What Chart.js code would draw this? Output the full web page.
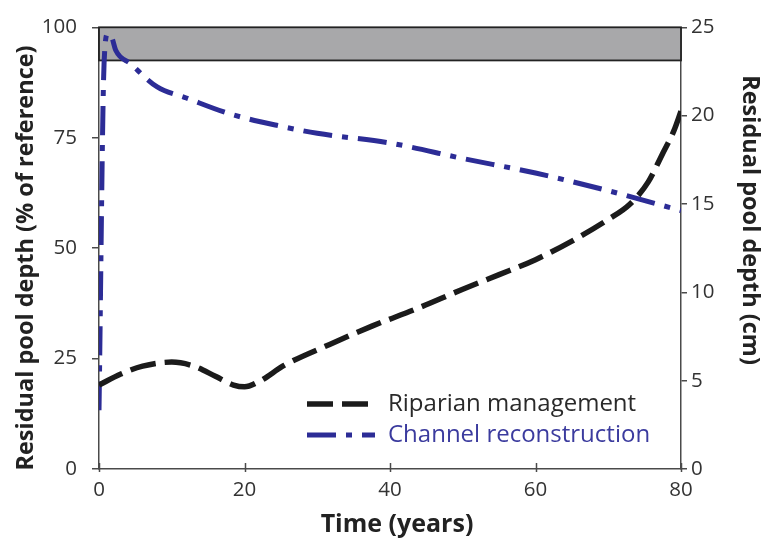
<!DOCTYPE html>
<html>
<head>
<meta charset="utf-8">
<script src="https://cdn.jsdelivr.net/npm/chart.js@4.4.1/dist/chart.umd.min.js"></script>
<style>
  html, body { margin: 0; padding: 0; background: #ffffff; }
  #wrap { width: 776px; height: 539px; position: relative; }
</style>
</head>
<body>
<div id="wrap"><canvas id="chart" width="776" height="539"></canvas></div>
<script>
// Residual pool depth over time under two restoration approaches
const riparianYears = [0, 3, 6, 10, 13, 16, 18.5, 20, 22, 25.5, 31.7, 37.6, 43.7, 50, 55, 60, 65, 70, 73, 75.5, 77.5, 79, 80];
const riparianPct   = [19, 21.5, 23.3, 24.2, 23.3, 21, 19, 18.6, 19.8, 23.5, 28.2, 32.4, 36.3, 40.7, 44, 47.4, 51.6, 56.5, 60, 65, 71.5, 76.5, 81];

const channelYears = [0, 0.7, 1.2, 1.8, 2.3, 4.3, 8, 12, 18, 25, 30, 40, 50, 60, 70, 80];
const channelPct   = [13.3, 92, 98.5, 97.5, 94.8, 91.8, 86.5, 84, 80.4, 77.6, 76, 73.8, 70.3, 67, 63, 58.5];

const seriesLabels = ['Riparian management', 'Channel reconstruction'];

// Reference-condition band (% of reference)
const referenceBand = [92.5, 100];

const xTicks = [0, 20, 40, 60, 80];
const pctTicks = [0, 25, 50, 75, 100];
const cmTicks = [0, 5, 10, 15, 20, 25];

const axisTitles = {
  x: 'Time (years)',
  left: 'Residual pool depth (% of reference)',
  right: 'Residual pool depth (cm)'
};

const FONT = "'Open Sans', 'Noto Sans', sans-serif";
const BLACK = '#1b1b1b';
const BLUE = '#2c2c96';
const AXIS = '#4a4a4a';

function toPoints(xs, ys) {
  return xs.map((x, i) => ({ x: x, y: ys[i] }));
}

const decorations = {
  id: 'decorations',
  beforeDatasetsDraw(chart) {
    const { ctx, scales } = chart;
    const x = scales.x, y = scales.y;
    const x0 = x.getPixelForValue(x.min), x1 = x.getPixelForValue(x.max);
    const yTop = y.getPixelForValue(referenceBand[1]);
    const yBot = y.getPixelForValue(referenceBand[0]);
    ctx.save();
    ctx.fillStyle = '#a8a8aa';
    ctx.fillRect(x0, yTop, x1 - x0, yBot - yTop);
    ctx.strokeStyle = '#222222';
    ctx.lineWidth = 1.8;
    ctx.strokeRect(x0, yTop, x1 - x0, yBot - yTop);
    ctx.restore();
  },
  afterDraw(chart) {
    const { ctx, scales, chartArea } = chart;
    const x = scales.x;
    ctx.save();
    // inward tick marks on the time axis
    ctx.strokeStyle = AXIS;
    ctx.lineWidth = 1.5;
    xTicks.forEach(v => {
      const px = Math.round(x.getPixelForValue(v)) + 0.5;
      ctx.beginPath();
      ctx.moveTo(px, chartArea.bottom - 6);
      ctx.lineTo(px, chartArea.bottom + 3);
      ctx.stroke();
    });

    // legend
    const legendX0 = 307, legendX1 = 375, textX = 388;
    const rows = [404, 435];
    chart.data.datasets.forEach((ds, i) => {
      const yy = rows[i];
      ctx.save();
      ctx.strokeStyle = ds.borderColor;
      ctx.lineWidth = ds.borderWidth;
      ctx.setLineDash(ds.borderDash);
      ctx.lineCap = 'butt';
      ctx.beginPath();
      ctx.moveTo(legendX0, yy);
      ctx.lineTo(legendX1, yy);
      ctx.stroke();
      ctx.restore();
      ctx.fillStyle = i === 0 ? '#2a2a2a' : '#3b3b9e';
      ctx.font = '24px ' + FONT;
      ctx.textBaseline = 'middle';
      ctx.textAlign = 'left';
      ctx.fillText(ds.label, textX, yy);
    });

    // axis titles
    ctx.fillStyle = '#222222';
    ctx.font = 'bold 23.5px ' + FONT;
    ctx.textAlign = 'center';
    ctx.textBaseline = 'middle';

    ctx.save();
    ctx.translate(26, 258);
    ctx.rotate(-Math.PI / 2);
    ctx.fillText(axisTitles.left, 0, 0);
    ctx.restore();

    ctx.save();
    ctx.translate(750, 220);
    ctx.rotate(Math.PI / 2);
    ctx.fillText(axisTitles.right, 0, 0);
    ctx.restore();

    ctx.font = 'bold 25px ' + FONT;
    ctx.fillText(axisTitles.x, 397, 525);
    ctx.restore();
  }
};

new Chart(document.getElementById('chart'), {
  type: 'line',
  data: {
    datasets: [
      {
        label: seriesLabels[0],
        data: toPoints(riparianYears, riparianPct),
        borderColor: BLACK,
        borderWidth: 5.5,
        borderDash: [26, 9],
        pointRadius: 0,
        fill: false,
        cubicInterpolationMode: 'monotone',
        yAxisID: 'y'
      },
      {
        label: seriesLabels[1],
        data: toPoints(channelYears, channelPct),
        borderColor: BLUE,
        borderWidth: 5,
        borderDash: [29, 10, 6, 10],
        pointRadius: 0,
        fill: false,
        cubicInterpolationMode: 'monotone',
        yAxisID: 'y'
      }
    ]
  },
  options: {
    responsive: false,
    animation: false,
    devicePixelRatio: 1,
    layout: { padding: { top: 22, left: 0, right: 0, bottom: 0 } },
    plugins: {
      legend: { display: false },
      tooltip: { enabled: false }
    },
    scales: {
      x: {
        type: 'linear',
        min: 0,
        max: 80,
        afterBuildTicks(scale) { scale.ticks = xTicks.map(v => ({ value: v })); },
        afterFit(scale) { scale.height = 70; },
        border: { display: true, color: AXIS, width: 1.5 },
        grid: { display: false, drawOnChartArea: false, drawTicks: false },
        ticks: {
          padding: 9,
          color: '#333333',
          font: { family: FONT, size: 20.5 }
        }
      },
      y: {
        position: 'left',
        min: 0,
        max: 100,
        afterBuildTicks(scale) { scale.ticks = pctTicks.map(v => ({ value: v })); },
        afterFit(scale) { scale.width = 99; },
        border: { display: true, color: AXIS, width: 1.5 },
        grid: { drawOnChartArea: false, drawTicks: true, tickLength: 7, color: AXIS, lineWidth: 1.5 },
        ticks: {
          padding: 15,
          color: '#333333',
          font: { family: FONT, size: 20.5 }
        }
      },
      y2: {
        position: 'right',
        min: 0,
        max: 25,
        afterBuildTicks(scale) { scale.ticks = cmTicks.map(v => ({ value: v })); },
        afterFit(scale) { scale.width = 95; },
        border: { display: true, color: AXIS, width: 1.5 },
        grid: { drawOnChartArea: false, drawTicks: true, tickLength: 6, color: AXIS, lineWidth: 1.5 },
        ticks: {
          padding: 4,
          color: '#333333',
          font: { family: FONT, size: 20.5 }
        }
      }
    }
  },
  plugins: [decorations]
});
</script>
</body>
</html>
